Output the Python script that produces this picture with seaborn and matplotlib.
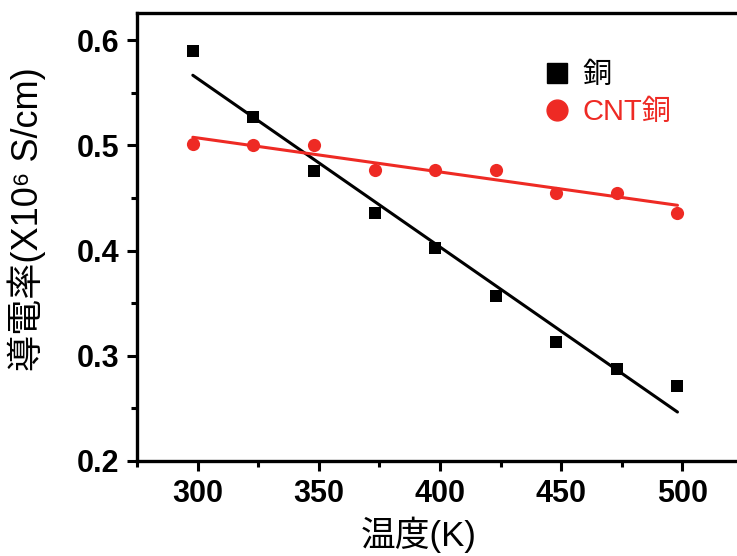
import numpy as np
import pandas as pd
import seaborn as sns
from matplotlib import pyplot as plt
from matplotlib.lines import Line2D
from matplotlib.ticker import MultipleLocator

# data
temperature = [298, 323, 348, 373, 398, 423, 448, 473, 498]
copper = [0.590, 0.527, 0.476, 0.436, 0.402, 0.357, 0.313, 0.287, 0.271]
cnt_copper = [0.501, 0.500, 0.500, 0.477, 0.477, 0.477, 0.455, 0.455, 0.436]
series_names = ["銅", "CNT銅"]
x_ticks = [300, 350, 400, 450, 500]
y_ticks = [0.2, 0.3, 0.4, 0.5, 0.6]

BLACK = "#000000"
RED = "#ee2a24"

sns.set_style("ticks")
plt.rcParams["font.family"] = ["Liberation Sans", "Noto Sans CJK JP", "DejaVu Sans"]
plt.rcParams["text.color"] = BLACK
plt.rcParams["axes.labelcolor"] = BLACK
plt.rcParams["xtick.color"] = BLACK
plt.rcParams["ytick.color"] = BLACK

df = pd.DataFrame({"T": temperature, "cu": copper, "cnt": cnt_copper})

fig = plt.figure(figsize=(7.37, 5.56), dpi=100)
ax = fig.add_axes([0.186, 0.171, 0.822, 0.806])

# copper: squares + linear fit
sns.regplot(data=df, x="T", y="cu", ci=None, marker="s", ax=ax,
            scatter_kws=dict(s=75, color=BLACK, linewidths=0, alpha=1),
            line_kws=dict(color=BLACK, lw=2.2))
# CNT copper: circles + linear fit
sns.regplot(data=df, x="T", y="cnt", ci=None, marker="o", ax=ax,
            scatter_kws=dict(s=90, color=RED, linewidths=0, alpha=1),
            line_kws=dict(color=RED, lw=2.2))

ax.set_xlim(275, 525)
ax.set_ylim(0.2, 0.626)
ax.set_xticks(x_ticks)
ax.set_yticks(y_ticks)
ax.set_xticklabels([str(t) for t in x_ticks])
ax.set_yticklabels([f"{t:.1f}" for t in y_ticks])
ax.xaxis.set_minor_locator(MultipleLocator(25))
ax.yaxis.set_minor_locator(MultipleLocator(0.05))
ax.tick_params(which="major", direction="out", length=7, width=2.2,
               labelsize=22, pad=6)
ax.tick_params(which="minor", direction="out", length=4, width=2.2)
for lbl in ax.get_xticklabels() + ax.get_yticklabels():
    lbl.set_fontweight("bold")

for side in ax.spines.values():
    side.set_linewidth(2.4)
    side.set_color(BLACK)

ax.set_xlabel("温度(K)", fontsize=25)
ax.xaxis.set_label_coords(0.465, -0.125)
ax.set_ylabel("導電率(X10⁶ S/cm)", fontsize=26)
ax.yaxis.set_label_coords(-0.15, 0.54)

handles = [
    Line2D([], [], ls="none", marker="s", ms=14, color=BLACK),
    Line2D([], [], ls="none", marker="o", ms=15, color=RED),
]
leg = ax.legend(handles, series_names, loc="upper left",
                bbox_to_anchor=(0.63, 0.95), frameon=False, fontsize=21,
                handlelength=0.8, handletextpad=0.5, labelspacing=0.3)
leg.get_texts()[0].set_color(BLACK)
leg.get_texts()[1].set_color(RED)

fig.savefig("out.png", dpi=100)
